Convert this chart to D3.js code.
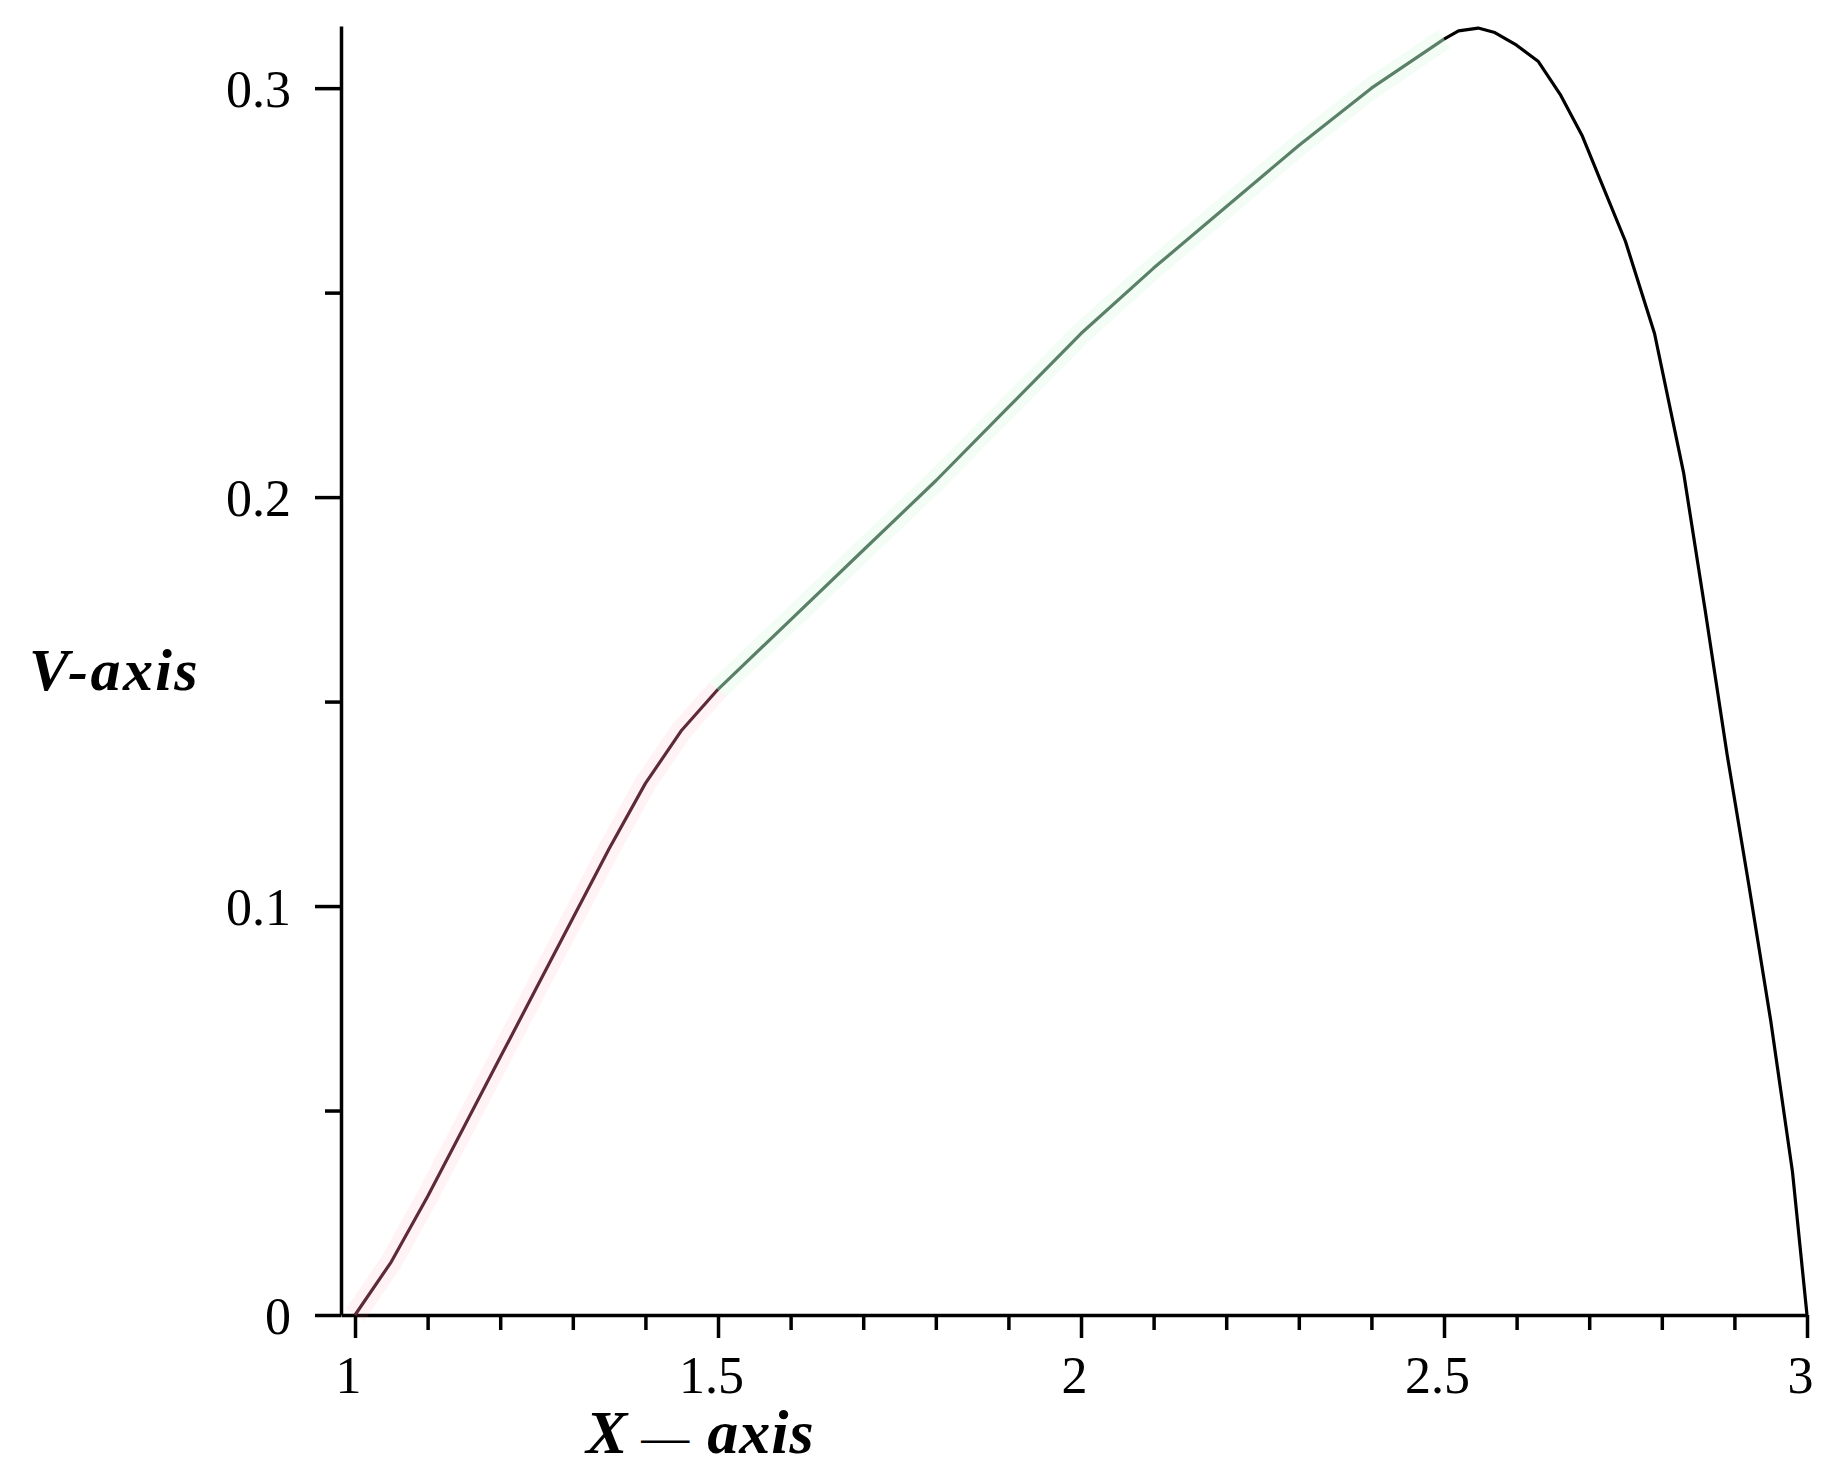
<!DOCTYPE html>
<html><head><meta charset="utf-8">
<script src="https://cdn.jsdelivr.net/npm/d3@7"></script>
<style>html,body{margin:0;padding:0;background:#fff;} svg{display:block;background:#fff}</style>
</head><body>
<svg id="chart" width="1830" height="1480"></svg>
<script>
// ---- data ----
const redX   = [1.0, 1.05, 1.1, 1.15, 1.2, 1.25, 1.3, 1.35, 1.4, 1.45, 1.5];
const redY   = [0, 0.013, 0.029, 0.046, 0.063, 0.080, 0.097, 0.114, 0.130, 0.143, 0.153];
const greenX = [1.5, 1.6, 1.7, 1.8, 1.9, 2.0, 2.1, 2.2, 2.3, 2.4, 2.5];
const greenY = [0.153, 0.170, 0.187, 0.204, 0.222, 0.240, 0.256, 0.271, 0.286, 0.300, 0.312];
const blackX = [2.5, 2.52, 2.547, 2.57, 2.6, 2.63, 2.66, 2.69, 2.72, 2.75, 2.79, 2.83, 2.86, 2.89, 2.92, 2.95, 2.98, 3.0];
const blackY = [0.312, 0.314, 0.3147, 0.3136, 0.3105, 0.3065, 0.2985, 0.2885, 0.2755, 0.2625, 0.240, 0.206, 0.172, 0.137, 0.105, 0.072, 0.035, 0];
const xMajorTicks = [1, 1.5, 2, 2.5, 3];
const xMinorTicks = [1.1, 1.2, 1.3, 1.4, 1.6, 1.7, 1.8, 1.9, 2.1, 2.2, 2.3, 2.4, 2.6, 2.7, 2.8, 2.9];
const yMajorTicks = [0, 0.1, 0.2, 0.3];
const yMinorTicks = [0.05, 0.15, 0.25];
const xTitleParts = ["X", "\u2014", "axis"];
const yTitle = "V-axis";

// ---- chart ----
const svg = d3.select("#chart");
const x = d3.scaleLinear().domain([0.9807, 3]).range([341, 1807]);
const y = d3.scaleLinear().domain([0, 0.3152]).range([1315, 26]);
const tickFont = "'Liberation Serif', 'Times New Roman', serif";

function styleAxis(g) {
  g.selectAll(".domain").attr("stroke", "#000").attr("stroke-width", 3.5);
  g.selectAll(".tick line").attr("stroke", "#000").attr("stroke-width", 3.5);
  g.selectAll(".tick text").attr("fill", "#000").style("font-family", tickFont).style("font-size", "52px");
}

// x minor
const gxm = svg.append("g").attr("transform", "translate(0,1315)")
  .call(d3.axisBottom(x).tickValues(xMinorTicks).tickSize(15).tickFormat(""));
gxm.select(".domain").remove();
styleAxis(gxm);
// x major
const gx = svg.append("g").attr("transform", "translate(0,1315)")
  .call(d3.axisBottom(x).tickValues(xMajorTicks).tickSize(23).tickSizeOuter(0).tickFormat(d3.format("~g")));
styleAxis(gx);
gx.selectAll(".tick text").attr("y", 78).attr("dy", null).attr("dx", -7);

// y minor
const gym = svg.append("g").attr("transform", "translate(341,0)")
  .call(d3.axisLeft(y).tickValues(yMinorTicks).tickSize(16).tickFormat(""));
gym.select(".domain").remove();
styleAxis(gym);
// y major
const gy = svg.append("g").attr("transform", "translate(341,0)")
  .call(d3.axisLeft(y).tickValues(yMajorTicks).tickSize(26).tickSizeOuter(0)
    .tickFormat(d => d === 0 ? "0" : d3.format(".1f")(d)));
styleAxis(gy);
gy.selectAll(".tick text").attr("x", -50).attr("dy", "0.36em").attr("text-anchor", "end");

// curves
const line = d3.line().x(d => x(d[0])).y(d => y(d[1]));
const series = [
  {xs: redX, ys: redY, color: "#5e2a38", halo: "#ff8aa0"},
  {xs: greenX, ys: greenY, color: "#5a8068", halo: "#8ef0a8"},
  {xs: blackX, ys: blackY, color: "#000000", halo: null}
];
series.forEach(s => {
  const pts = s.xs.map((v, i) => [v, s.ys[i]]);
  if (s.halo) {
    svg.append("path").attr("d", line(pts)).attr("fill", "none")
      .attr("stroke", s.halo).attr("stroke-opacity", 0.1).attr("stroke-width", 22)
      .attr("stroke-linejoin", "round");
  }
  svg.append("path").attr("d", line(pts)).attr("fill", "none")
    .attr("stroke", s.color).attr("stroke-width", 3.2).attr("stroke-linejoin", "round");
});

// titles
svg.append("text").attr("x", 29).attr("y", 690).text(yTitle)
  .style("font-family", tickFont).style("font-size", "60px").style("letter-spacing", "2.4px")
  .style("font-weight", "bold").style("font-style", "italic").attr("fill", "#000");

const xt = svg.append("text").attr("x", 586).attr("y", 1453)
  .style("font-family", tickFont).style("font-weight", "bold").style("font-style", "italic")
  .attr("fill", "#000");
xt.append("tspan").style("font-size", "62px").text(xTitleParts[0]);
xt.append("tspan").attr("dx", 14).style("font-size", "48px").style("font-weight", "normal")
  .style("font-style", "normal").text(xTitleParts[1]);
xt.append("tspan").attr("dx", 18).style("font-size", "62px").style("letter-spacing", "1px").text(xTitleParts[2]);
</script>
</body></html>
